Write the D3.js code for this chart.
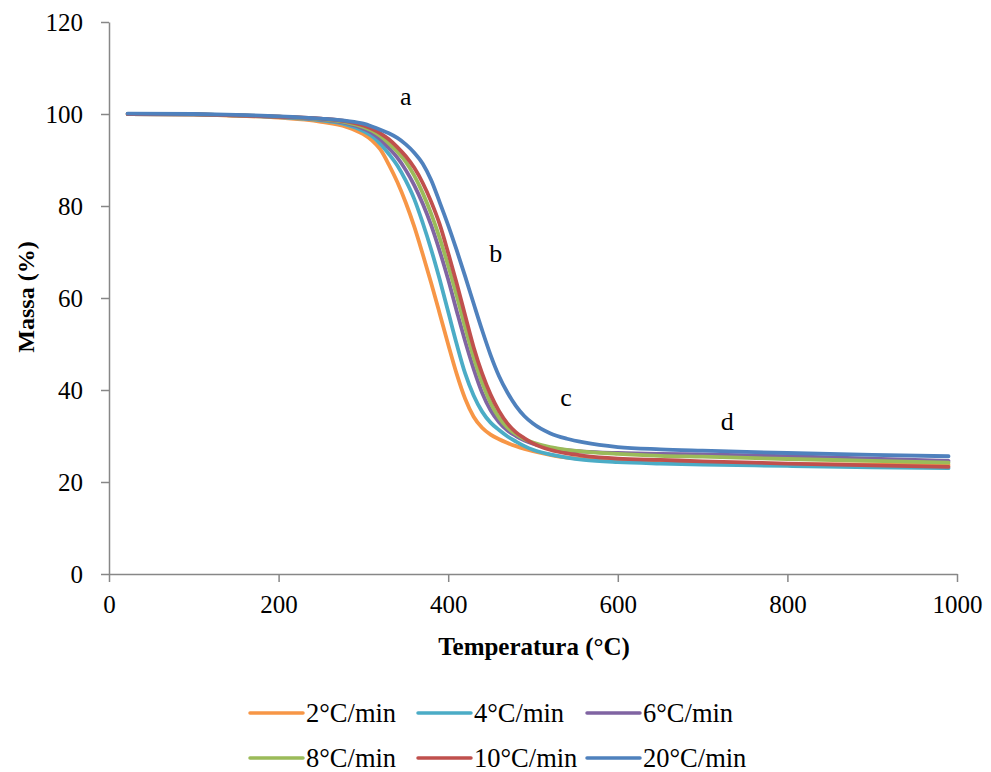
<!DOCTYPE html>
<html>
<head>
<meta charset="utf-8">
<script src="https://cdn.jsdelivr.net/npm/d3@7"></script>
<style>
  html, body { margin: 0; padding: 0; background: #fff; }
  svg { display: block; }
  text { font-family: "Liberation Serif", "Times New Roman", serif; fill: #000; }
</style>
</head>
<body>
<svg id="chart" width="991" height="772"></svg>
<script>
// ---------------- data ----------------
const temperatures = [22, 100, 150, 200, 250, 280, 300, 310, 320, 330, 340, 350, 360, 370, 380, 390, 400, 410, 420, 430, 440, 450, 460, 470, 480, 490, 500, 520, 540, 560, 600, 650, 700, 800, 900, 990];

const mass2  = [100, 99.9, 99.6, 99.2, 98.3, 97.2, 95.6, 94.3, 92.3, 89.0, 85.2, 80.7, 75.5, 69.5, 63.2, 56.6, 49.9, 43.5, 38.1, 34.2, 31.8, 30.3, 29.3, 28.5, 27.8, 27.2, 26.7, 25.9, 25.3, 25.0, 24.6, 24.3, 24.1, 23.9, 23.8, 23.7];
const mass4  = [100, 99.9, 99.7, 99.3, 98.6, 97.7, 96.3, 95.2, 93.5, 91.3, 88.8, 85.5, 81.5, 76.3, 70.5, 64.0, 57.0, 50.0, 43.6, 38.8, 35.3, 32.9, 31.3, 29.9, 28.8, 27.8, 27.0, 26.0, 25.3, 24.8, 24.3, 24.0, 23.8, 23.5, 23.2, 23.0];
const mass6  = [100, 99.9, 99.7, 99.4, 98.8, 98.0, 96.8, 95.9, 94.5, 92.6, 90.5, 87.8, 84.5, 80.5, 75.8, 70.2, 64.0, 57.2, 50.6, 44.6, 39.4, 35.6, 33.0, 31.2, 30.0, 29.0, 28.3, 27.4, 26.9, 26.6, 26.3, 26.1, 26.0, 25.6, 25.1, 24.6];
const mass8  = [100, 99.9, 99.7, 99.4, 98.9, 98.2, 97.2, 96.4, 95.2, 93.6, 91.8, 89.6, 86.6, 82.8, 78.3, 73.0, 67.0, 60.5, 53.6, 47.1, 41.6, 37.2, 34.0, 31.8, 30.4, 29.3, 28.6, 27.6, 27.0, 26.6, 26.1, 25.7, 25.5, 25.0, 24.6, 24.2];
const mass10 = [100, 99.9, 99.7, 99.4, 99.0, 98.4, 97.5, 96.8, 95.8, 94.5, 92.8, 90.8, 88.3, 85.0, 80.9, 76.0, 69.8, 63.2, 56.2, 49.3, 43.6, 39.0, 35.4, 32.7, 30.8, 29.5, 28.4, 27.0, 26.2, 25.7, 25.1, 24.8, 24.5, 24.0, 23.6, 23.3];
const mass20 = [100.1, 100.0, 99.8, 99.5, 99.0, 98.5, 97.9, 97.3, 96.6, 95.8, 94.8, 93.4, 91.6, 89.2, 85.6, 80.8, 75.8, 70.4, 64.7, 58.8, 53.0, 47.6, 43.0, 39.4, 36.5, 34.3, 32.7, 30.6, 29.4, 28.6, 27.6, 27.1, 26.8, 26.3, 25.9, 25.6];

const seriesNames  = ["2°C/min", "4°C/min", "6°C/min", "8°C/min", "10°C/min", "20°C/min"];
const seriesValues = [mass2, mass4, mass6, mass8, mass10, mass20];
const seriesColors = ["#F79646", "#4BACC6", "#8064A2", "#9BBB59", "#C0504D", "#4F81BD"];

const xTicks = [0, 200, 400, 600, 800, 1000];
const yTicks = [0, 20, 40, 60, 80, 100, 120];

const annotationLabels = ["a", "b", "c", "d"];
const annotationTemps  = [350, 456, 539, 729];
const annotationMasses = [102, 67.8, 36.5, 31.3];

// ---------------- drawing ----------------
const svg = d3.select("#chart");
const plot = { left: 109, right: 957, top: 22, bottom: 574 };
const axisColor = "#878787";

const x = d3.scaleLinear().domain([0, 1000]).range([plot.left, plot.right]);
const y = d3.scaleLinear().domain([0, 120]).range([plot.bottom, plot.top]);

// Y axis
const yAxis = svg.append("g")
  .attr("transform", `translate(${plot.left},0)`)
  .call(d3.axisLeft(y).tickValues(yTicks).tickSize(8).tickSizeOuter(0).tickPadding(18).tickFormat(d3.format("d")));
yAxis.select(".domain").attr("stroke", axisColor).attr("stroke-width", 1.5);
yAxis.selectAll(".tick line").attr("stroke", axisColor).attr("stroke-width", 1.5);
yAxis.selectAll(".tick text")
  .style("font-family", '"Liberation Serif", serif')
  .style("font-size", "25px").attr("fill", "#000");

// X axis
const xAxis = svg.append("g")
  .attr("transform", `translate(0,${plot.bottom})`)
  .call(d3.axisBottom(x).tickValues(xTicks).tickSize(8).tickSizeOuter(0).tickPadding(13).tickFormat(d3.format("d")));
xAxis.select(".domain").attr("stroke", axisColor).attr("stroke-width", 1.5);
xAxis.selectAll(".tick line").attr("stroke", axisColor).attr("stroke-width", 1.5);
xAxis.selectAll(".tick text")
  .style("font-family", '"Liberation Serif", serif')
  .style("font-size", "25px").attr("fill", "#000");

// Axis titles
svg.append("text")
  .attr("x", 534).attr("y", 655)
  .attr("text-anchor", "middle")
  .style("font-size", "25px").style("font-weight", "bold")
  .text("Temperatura (°C)");

svg.append("text")
  .attr("transform", "translate(34,297) rotate(-90)")
  .attr("text-anchor", "middle")
  .style("font-size", "24px").style("font-weight", "bold")
  .text("Massa (%)");

// Lines
const line = d3.line()
  .x((d, i) => x(temperatures[i]))
  .y(d => y(d))
  .curve(d3.curveMonotoneX);

svg.append("g").selectAll("path")
  .data(seriesValues)
  .join("path")
  .attr("d", d => line(d))
  .attr("fill", "none")
  .attr("stroke", (d, i) => seriesColors[i])
  .attr("stroke-width", 3.8)
  .attr("stroke-linejoin", "round")
  .attr("stroke-linecap", "round");

// Annotations
svg.append("g").selectAll("text")
  .data(annotationLabels)
  .join("text")
  .attr("x", (d, i) => x(annotationTemps[i]))
  .attr("y", (d, i) => y(annotationMasses[i]))
  .attr("text-anchor", "middle")
  .style("font-size", "26px")
  .text(d => d);

// Legend
const legendCols = [250, 418, 587];
const legendRows = [713, 758];
const legend = svg.append("g");
seriesNames.forEach((name, i) => {
  const cx = legendCols[i % 3];
  const cy = legendRows[Math.floor(i / 3)];
  legend.append("line")
    .attr("x1", cx).attr("x2", cx + 53)
    .attr("y1", cy).attr("y2", cy)
    .attr("stroke", seriesColors[i]).attr("stroke-width", 3.5)
    .attr("stroke-linecap", "round");
  legend.append("text")
    .attr("x", cx + 56).attr("y", cy + 9)
    .style("font-size", "26.5px")
    .text(name);
});
</script>
</body>
</html>
